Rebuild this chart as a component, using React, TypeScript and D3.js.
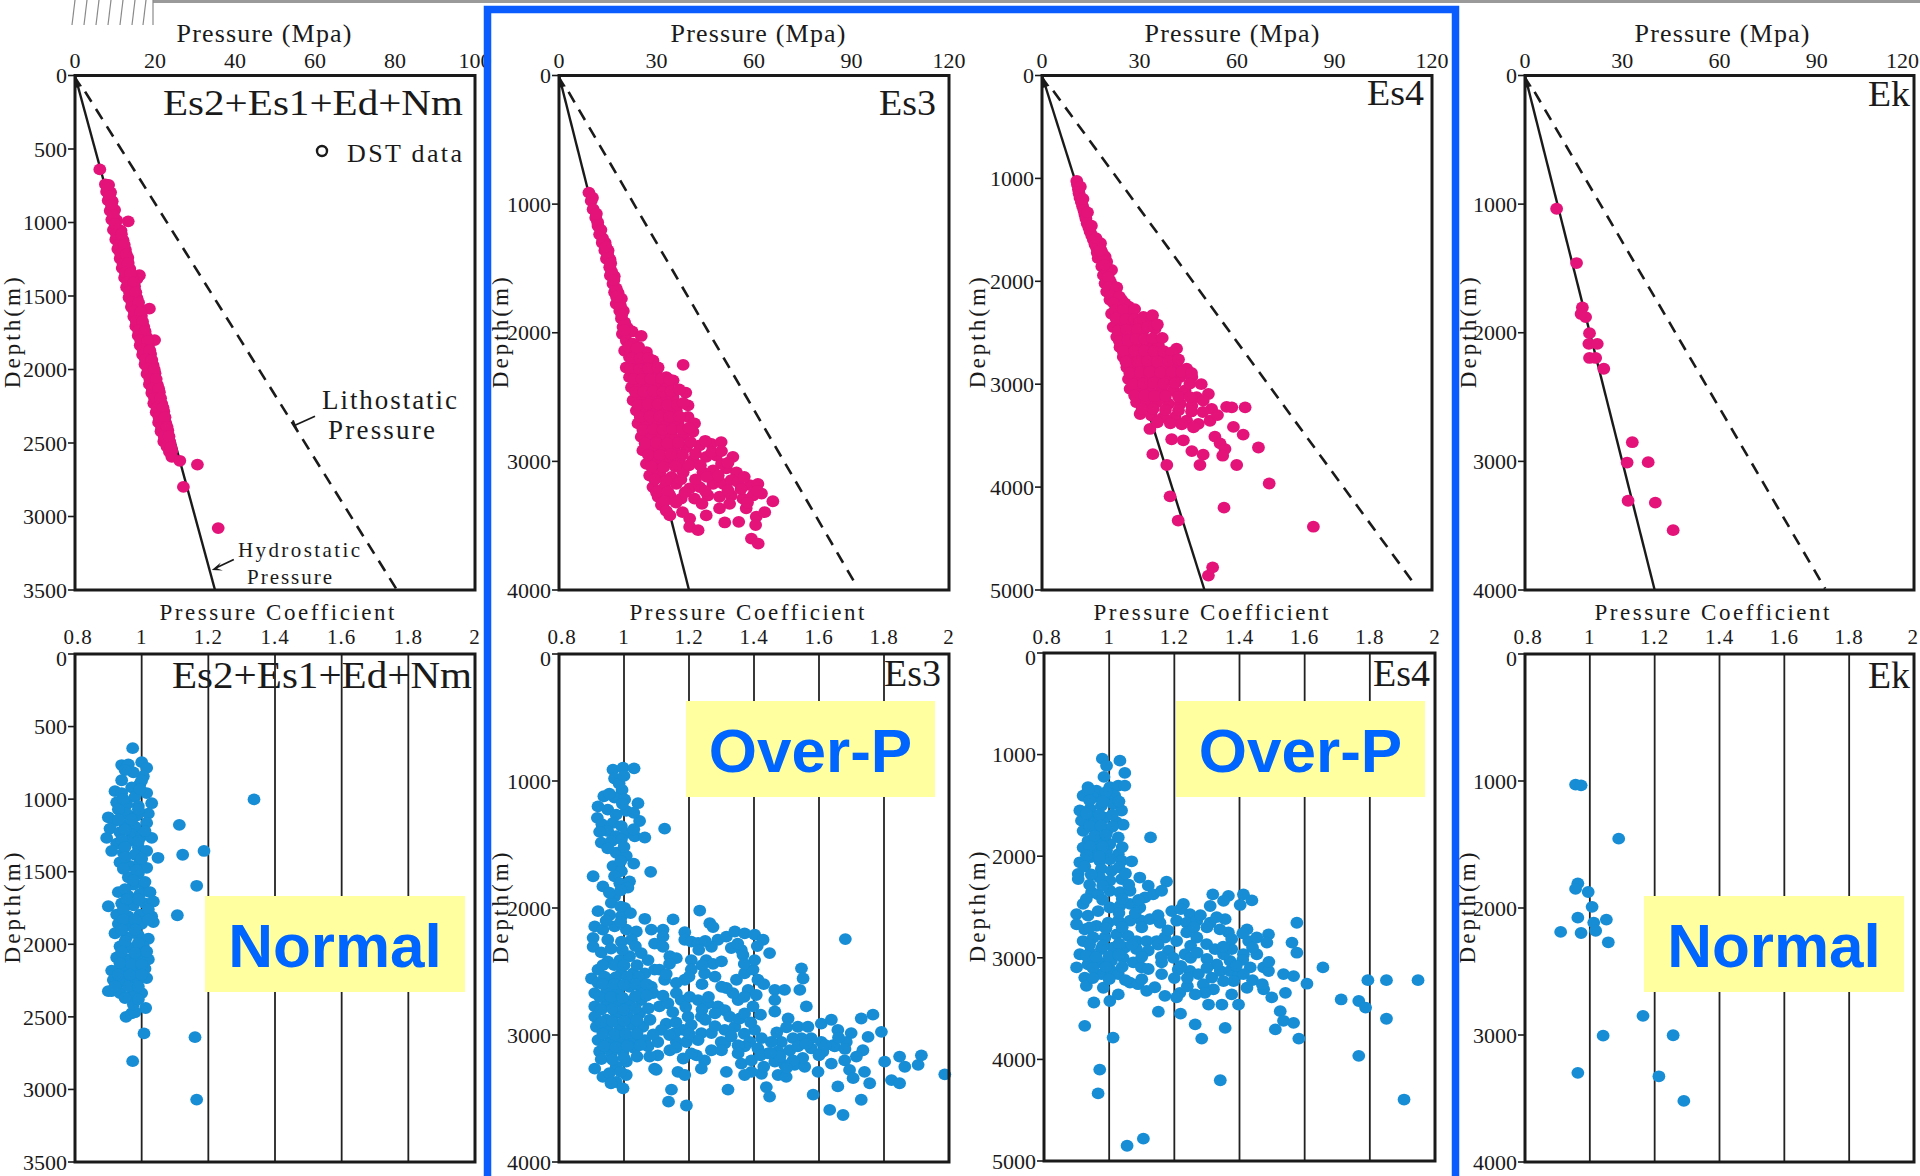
import React from "react";
import * as d3 from "d3";

type Pt = [number, number]; // [depth (m), value]

// ---------------- DATA ----------------
// Pressure (MPa) vs depth (m)
const es2Pressure: Pt[] = [
  [639,6.2],[740,7.6],[745,8.4],[790,7.9],[795,8.9],[850,8.3],[855,9.3],[920,8.8],[915,9.9],[980,9.2],[985,10.4],[992,13.3],
  [1050,9.6],[1045,10.7],[1055,11.5],[1115,10.2],[1110,11.2],[1120,12.0],[1180,10.7],[1175,11.8],[1185,12.6],[1245,11.3],
  [1250,12.3],[1240,13.2],[1310,11.8],[1305,12.8],[1315,13.7],[1359,16.1],[1383,15.5],[1375,12.4],[1370,13.4],[1380,14.3],
  [1440,12.9],[1445,14.0],[1435,14.9],[1510,13.5],[1505,14.6],[1515,15.5],[1586,18.6],[1575,14.1],[1570,15.1],[1580,16.0],
  [1640,14.7],[1645,15.7],[1635,16.6],[1705,15.2],[1700,16.2],[1710,17.2],[1770,15.8],[1765,16.8],[1775,17.8],[1800,19.9],
  [1835,16.3],[1830,17.3],[1840,18.3],[1900,16.9],[1905,17.9],[1895,18.9],[1965,17.5],[1960,18.5],[1970,19.5],[2030,18.0],
  [2035,19.1],[2025,20.0],[2100,18.6],[2095,19.6],[2105,20.6],[2160,19.2],[2165,20.2],[2155,21.1],[2230,19.7],[2225,20.7],
  [2235,21.7],[2290,20.3],[2295,21.3],[2285,22.2],[2360,20.9],[2355,21.8],[2365,22.7],[2420,21.5],[2425,22.4],[2415,23.2],
  [2490,22.2],[2485,23.0],[2495,23.7],[2560,23.6],[2555,24.2],[2594,24.2],[2621,26.2],[2647,30.6],[2799,27.1],[3079,35.8],
  [770,8.2],[820,8.6],[880,9.1],[950,9.6],[1010,10.0],[1080,10.4],[1080,11.6],[1150,11.0],[1150,12.3],[1210,11.4],[1215,12.8],
  [1280,12.0],[1275,13.3],[1340,12.6],[1345,13.9],[1405,13.2],[1410,14.6],[1470,13.6],[1475,15.2],[1540,14.2],[1545,15.9],
  [1605,14.8],[1610,16.4],[1670,15.3],[1675,16.9],[1735,15.9],[1740,17.5],[1800,16.4],[1805,18.1],[1865,17.0],[1870,18.7],
  [1930,17.6],[1935,19.2],[1995,18.2],[2000,19.8],[2065,18.7],[2065,20.3],[2130,19.3],[2130,20.9],[2195,19.9],[2195,21.4],
  [2260,20.5],[2260,22.0],[2325,21.0],[2325,22.5],[2390,21.6],[2390,23.0],[2455,22.3],[2455,23.5],[2525,23.0],[2530,24.0]
];
const es3Pressure: Pt[] = [
  [910,9.2],[975,9.9],[1040,10.5],[1105,11.3],[1170,12.0],[1235,12.5],[1300,13.3],[1300,14.2],[1360,14.1],[1360,15.1],
  [1425,14.6],[1430,15.7],[1490,15.6],[1555,15.8],[1560,17.0],[1620,16.6],[1685,17.1],[1690,18.2],[1725,18.2],[1735,19.2],
  [1775,17.6],[1830,18.7],[1830,19.8],[1890,19.2],[1955,19.7],[1960,21.0],[1990,22.5],[2010,19.5],[2025,25.3],[2060,20.7],
  [2085,22.8],[2110,24.5],[2140,20.2],[2190,21.7],[2150,23.8],[2150,26.9],[2270,20.7],[2240,23.3],[2230,25.8],[2215,28.9],
  [2250,38.2],[2345,21.7],[2320,24.3],[2320,26.9],[2305,29.9],[2345,33.0],[2425,22.3],[2425,24.8],[2395,27.4],[2395,30.5],
  [2425,33.5],[2370,35.1],[2525,22.8],[2500,25.8],[2500,28.9],[2515,32.0],[2500,35.1],[2465,39.0],[2565,39.7],[2605,23.8],
  [2605,26.9],[2590,29.9],[2605,33.0],[2605,36.1],[2705,24.3],[2695,27.4],[2705,30.5],[2705,33.5],[2695,36.6],[2655,39.7],
  [2705,41.7],[2770,41.2],[2810,25.3],[2800,28.4],[2810,31.5],[2800,34.6],[2800,38.2],[2915,25.8],[2900,28.9],[2890,32.0],
  [2915,35.6],[2890,39.2],[2875,43.3],[2865,46.9],[2850,49.9],[3020,26.9],[3005,29.9],[2990,33.5],[3005,37.1],[2990,41.2],
  [2965,45.3],[2955,48.4],[2965,53.5],[3110,27.9],[3095,31.0],[3120,34.6],[3085,38.2],[3085,44.3],[3070,47.4],[3055,51.5],
  [3085,54.6],[3200,28.9],[3200,32.5],[3175,36.1],[3210,40.2],[3200,43.3],[3175,47.4],[3175,50.5],[3145,53.0],[3160,55.1],
  [3185,58.7],[3175,61.2],[3275,30.5],[3265,34.1],[3290,37.6],[3290,41.7],[3265,45.8],[3275,49.4],[3265,53.0],[3290,56.6],
  [3265,59.7],[3250,62.3],[3310,65.8],[3340,31.5],[3420,34.1],[3445,40.2],[3420,45.3],[3475,51.0],[3470,55.3],[3430,60.7],
  [3495,60.5],[3510,40.2],[3535,42.8],[3600,59.2],[3640,61.3],[3365,49.4],[3365,57.6],[3395,63.3],
  [2110,21.5],[2120,24.0],[2200,22.5],[2200,25.0],[2195,27.5],[2280,22.0],[2285,24.8],[2280,27.5],[2270,30.5],[2360,23.0],
  [2360,25.5],[2360,28.2],[2355,31.5],[2365,34.0],[2460,23.5],[2460,26.0],[2455,29.0],[2460,32.0],[2455,34.5],[2440,37.0],
  [2560,24.3],[2555,27.4],[2555,30.5],[2560,33.5],[2560,36.5],[2545,38.2],[2655,25.0],[2650,28.0],[2650,31.0],[2655,34.0],
  [2650,37.0],[2755,25.8],[2750,29.0],[2755,32.0],[2750,35.0],[2750,38.0],[2740,40.0],[2860,26.5],[2855,30.0],[2860,33.3],
  [2855,36.8],[2850,40.5],[2840,45.0],[2950,27.5],[2950,31.0],[2945,34.5],[2950,38.0],[2940,42.0],[2930,47.0],[2920,50.0],
  [3040,28.5],[3045,32.2],[3040,35.8],[3030,40.0],[3030,43.5],[3020,50.0],[3010,52.0],[3140,29.5],[3150,33.0],[3140,37.5],
  [3140,42.0],[3120,45.5],[3110,49.0],[3120,57.0],[3240,30.0],[3235,33.5],[3240,38.8],[3230,45.0],[3225,52.0],[3215,56.0],
  [3230,61.0],[3310,32.5],[3320,36.0],[3330,44.0],[3330,52.5],[3320,58.0],[3385,33.0],[3395,38.0],
  [1140,11.9],[1265,13.4],[1395,15.0],[1525,16.2],[1655,17.6],[1790,18.9],[1920,20.2],
  [950,10.3],[1075,11.5],[1200,12.9],[1330,14.4],[1460,15.9],[1590,16.9],[1720,17.7],[1860,19.3],[1980,20.1]
];
const es4Pressure: Pt[] = [
  [1025,10.7],[1105,11.2],[1190,11.7],[1270,12.5],[1350,13.2],[1435,13.9],[1515,14.8],[1595,15.8],[1630,18.0],[1675,16.8],
  [1695,18.1],[1760,19.4],[1810,19.9],[1775,17.3],[1855,18.4],[1890,21.4],[1940,18.9],[2000,21.0],[2035,21.4],[2020,19.4],
  [2100,19.9],[2115,22.5],[2180,20.9],[2180,24.5],[2245,23.0],[2245,26.6],[2315,21.4],[2345,24.0],[2295,27.1],[2445,21.9],
  [2425,24.5],[2410,27.1],[2345,31.2],[2380,33.7],[2540,23.0],[2525,25.5],[2510,28.1],[2475,31.2],[2460,34.8],[2640,24.0],
  [2620,27.1],[2605,29.6],[2620,32.7],[2620,35.8],[2655,41.4],[2735,25.0],[2720,27.6],[2735,30.2],[2720,33.2],[2735,36.3],
  [2720,39.4],[2835,26.1],[2835,28.6],[2815,31.7],[2835,34.8],[2835,37.8],[2800,41.4],[2850,44.5],[2950,26.6],[2930,29.6],
  [2930,32.7],[2930,35.8],[2950,38.9],[2930,42.5],[2930,46.1],[3045,27.1],[3060,30.2],[3060,33.2],[3045,36.8],[3060,40.4],
  [3060,44.0],[3125,47.6],[3095,51.2],[3175,29.1],[3175,32.2],[3175,35.3],[3190,38.9],[3190,42.5],[3210,46.1],[3160,49.6],
  [3240,52.2],[3290,30.2],[3305,33.7],[3320,37.3],[3320,40.9],[3355,44.5],[3385,48.1],[3355,51.7],[3435,33.2],[3535,39.9],
  [3545,43.5],[3420,46.6],[3220,56.8],[3225,58.4],[3225,62.5],[3415,58.9],[3490,61.9],[3510,53.2],[3575,54.8],[3630,56.3],
  [3695,55.6],[3650,46.1],[3685,49.6],[3785,48.6],[3785,59.9],[3615,66.6],[3680,34.1],[3785,38.4],[4090,39.4],[4325,41.9],
  [4200,56.0],[3965,69.9],[4385,83.5],[4780,52.5],[4860,51.2],
  [1060,10.9],[1145,11.4],[1230,12.1],[1310,12.9],[1390,13.5],[1475,14.4],[1555,15.3],[1640,16.3],[1720,17.0],[1730,18.6],
  [1800,18.9],[1880,19.8],[1960,20.4],[2060,20.5],[2060,23.0],[2140,21.2],[2150,23.8],[2210,22.0],[2215,25.5],[2280,22.5],
  [2275,25.0],[2270,28.5],[2360,22.8],[2370,25.8],[2365,28.5],[2330,34.0],[2400,30.0],[2480,23.5],[2470,26.0],[2465,29.5],
  [2440,32.5],[2420,35.5],[2580,23.8],[2575,26.5],[2560,29.0],[2560,31.5],[2555,34.0],[2550,37.0],[2680,25.0],[2680,28.5],
  [2675,31.5],[2680,34.5],[2680,37.5],[2690,40.0],[2780,25.8],[2780,29.5],[2775,32.5],[2780,35.5],[2775,39.0],[2760,42.0],
  [2890,27.0],[2885,30.2],[2880,33.2],[2885,36.5],[2880,40.0],[2880,43.0],[2890,46.0],[3000,28.2],[2995,31.2],[2990,34.3],
  [2995,37.5],[2990,41.0],[2995,45.5],[3000,49.0],[3110,28.5],[3110,31.6],[3115,34.6],[3115,38.0],[3120,42.0],[3125,45.5],
  [3240,30.8],[3240,34.2],[3250,38.0],[3255,42.0],[3265,46.0],[3270,49.5],[3370,35.5],[3380,39.5],[3390,43.0],[3300,54.0],
  [1080,11.8],[1200,12.6],[1330,14.0],[1460,15.2],[1580,16.6],[1700,17.9],[1840,19.2]
];
const ekPressure: Pt[] = [
  [1036,9.75],[1458,15.9],[1803,17.7],[1878,18.7],[1854,17.3],[2003,19.9],[2086,19.7],[2086,22.3],[2196,19.9],[2196,21.8],
  [2280,24.3],[2851,33.1],[3009,31.5],[3006,38.0],[3306,31.8],[3321,40.2],[3535,45.7]
];

// Pressure coefficient vs depth (m)
const es2Coef: Pt[] = [
  [649,0.973],[1002,1.337],[1177,1.113],[1383,1.123],[1357,1.187],[1404,1.049],[1597,1.165],[1800,1.107],[1738,0.9],
  [2640,1.16],[2805,0.973],[3070,1.165],[2614,1.007],[2439,1.012],[2500,0.953],[2475,0.97],[2468,0.98],[2323,0.91],[2310,0.925],
  [765,0.94],[760,0.96],[745,1.0],[785,1.015],[816,0.975],[842,1.005],[894,0.995],[919,0.97],[945,0.92],[958,0.94],[958,1.015],
  [984,0.98],[1022,0.925],[1035,0.955],[1048,0.99],[1028,1.03],[1100,1.02],[1113,0.985],[1100,0.955],[1125,0.9],[1151,0.92],
  [1177,0.95],[1190,0.98],[1164,1.015],[1203,0.905],[1228,0.935],[1241,0.97],[1254,1.0],[1267,0.895],[1306,0.925],[1293,0.96],
  [1331,0.99],[1267,1.03],[1357,0.91],[1370,0.945],[1383,0.98],[1357,1.015],[1435,0.935],[1460,0.965],[1435,0.995],[1538,0.96],
  [1512,0.99],[1473,1.015],[1589,0.975],[1589,1.005],[1641,0.93],[1666,0.96],[1653,0.995],[1641,1.025],[1718,0.94],[1731,0.975],
  [1718,1.01],[1705,1.035],[1795,0.925],[1808,0.96],[1795,0.995],[1808,1.03],[1859,0.93],[1872,0.965],[1859,1.0],[1847,1.035],
  [1924,0.92],[1950,0.955],[1937,0.99],[1962,1.02],[2014,0.935],[2027,0.97],[2014,1.005],[2091,0.925],[2104,0.96],[2091,0.995],
  [2104,1.02],[2168,0.945],[2181,0.98],[2168,1.01],[2181,0.91],[2246,0.915],[2259,0.95],[2246,0.985],[2233,1.015],[2323,0.9],
  [2336,0.935],[2349,0.97],[2336,1.0],[2413,0.975],
  [800,0.95],[870,0.94],[870,1.0],[930,0.995],[1000,0.945],[1070,0.93],[1070,0.99],[1140,0.93],[1140,0.97],[1210,0.95],
  [1220,1.01],[1280,0.94],[1290,0.99],[1330,0.95],[1400,0.95],[1410,1.0],[1480,0.945],[1490,0.985],[1560,0.975],[1570,1.01],
  [1620,0.95],[1690,0.955],[1690,0.99],[1760,0.945],[1760,1.02],[1830,0.945],[1830,0.98],[1830,1.02],[1900,0.94],[1900,0.98],
  [1980,0.95],[1990,0.99],[2050,0.94],[2060,0.98],[2050,1.015],[2130,0.935],[2140,0.97],[2140,1.0],[2210,0.93],[2210,0.965],
  [2210,1.0],[2290,0.92],[2290,0.96],[2290,0.99],[2370,0.95],[2380,0.99]
];
const es3Coef: Pt[] = [
  [910,0.966],[895,0.997],[900,1.031],[980,0.971],[1070,0.994],[1120,0.938],[1130,0.971],[1145,1.002],[1175,1.043],[1290,0.918],
  [1225,0.95],[1265,0.976],[1235,1.007],[1315,1.048],[1340,0.932],[1330,0.966],[1355,0.992],[1395,0.95],[1435,0.976],[1410,1.007],
  [1435,1.033],[1445,1.064],[1485,0.93],[1475,0.961],[1460,0.992],[1375,1.125],[1565,0.976],[1590,1.007],[1670,0.966],[1710,0.992],
  [1750,0.971],[1750,0.905],[1830,0.935],[1805,0.987],[1790,1.017],[1840,1.012],[1715,1.082],[1910,0.971],[1960,0.961],[2000,1.002],
  [2025,0.92],[2055,0.956],[2065,0.992],[2085,1.064],[2145,0.91],[2170,0.935],[2145,0.971],[2170,1.007],[2185,1.038],[2235,0.905],
  [2250,0.95],[2265,0.992],[2250,1.023],[2305,0.905],[2170,1.084],[2170,1.12],[2090,1.151],[2225,1.12],[2280,1.094],[2190,1.187],
  [2020,1.233],[2120,1.264],[2150,1.274],[2555,0.9],[2485,0.92],[2420,0.95],[2410,0.987],[2380,1.017],[2355,1.053],[2410,1.074],
  [2590,0.92],[2565,0.956],[2515,0.992],[2515,1.028],[2515,1.064],[2485,1.094],[2670,0.91],[2660,0.946],[2645,0.982],[2620,1.017],
  [2630,1.053],[2620,1.084],[2775,0.91],[2750,0.946],[2735,0.982],[2735,1.017],[2725,1.053],[2855,0.91],[2880,0.946],[2830,0.976],
  [2855,1.012],[2830,1.048],[2935,0.915],[2960,0.95],[2950,0.987],[2920,1.023],[2935,1.058],[3040,0.92],[3055,0.956],[3040,0.992],
  [3025,1.028],[3040,1.064],[3130,0.925],[3145,0.961],[3130,0.997],[3105,1.033],[3090,1.074],[3265,0.91],[3330,0.935],[3250,0.976],
  [3210,1.007],[3370,0.976],[3420,0.997],[3315,1.007],[3265,1.094],[3160,1.104],[3120,1.141],[3170,1.079],
  [2305,1.12],[2380,1.141],[2395,1.161],[2250,1.187],[2265,1.207],[2275,1.228],[2410,1.207],[2410,1.253],[2440,1.274],[2515,1.248],
  [2485,1.207],[2565,1.187],[2590,1.161],[2565,1.125],[2485,1.109],[2670,1.089],[2775,1.109],[2750,1.135],[2670,1.161],[2725,1.176],
  [2700,1.202],[2725,1.228],[2750,1.258],[2775,1.289],[2805,1.31],[2855,1.325],[2855,1.238],[2855,1.197],[2920,1.207],[2985,1.238],
  [2960,1.182],[2985,1.156],[2910,1.13],[2960,1.115],[3055,1.104],[3055,1.161],[3055,1.192],[3040,1.228],[2985,1.269],[3055,1.299],
  [2960,1.31],[2935,1.341],[2870,1.356],[2830,1.371],[2775,1.397],[2725,1.351],[2670,1.335],[2630,1.315],[2565,1.346],[2515,1.371],
  [2485,1.397],[2565,1.412],[2645,1.382],[2685,1.407],[2250,1.289],[2225,1.315],[2185,1.341],[2200,1.371],[2210,1.402],[2250,1.428],
  [2355,1.448],[2305,1.269],[2315,1.33],[2330,1.361],[2410,1.402],[2370,1.366],
  [2645,1.464],[2645,1.494],[2725,1.464],[2475,1.546],[2555,1.551],[2645,1.541],[2775,1.561],[2815,1.464],[2870,1.505],[2935,1.535],
  [2935,1.566],[2910,1.607],[2880,1.638],[2960,1.658],[2985,1.699],[2870,1.73],[2840,1.766],[2975,1.792],[3015,1.751],[3120,1.735],
  [3055,1.684],[3080,1.643],[3055,1.607],[3025,1.576],[3025,1.546],[3025,1.52],[3055,1.484],[3055,1.453],[3025,1.423],[2960,1.402],
  [3055,1.387],[3090,1.371],[3080,1.351],[3105,1.412],[3145,1.443],[3130,1.474],[3120,1.51],[3090,1.535],[3105,1.576],[3130,1.612],
  [3090,1.648],[3210,1.464],[3235,1.494],[3235,1.525],[3250,1.556],[3290,1.597],[3225,1.638],[3200,1.679],[3170,1.715],[3275,1.694],
  [3290,1.74],[3380,1.756],[3340,1.705],[3405,1.658],[3590,1.633],[3630,1.674],[3510,1.73],[3470,1.582],[3485,1.448],[3410,1.438],
  [3315,1.474],[3330,1.499],[3305,1.423],[3290,1.392],[3315,1.371],[3225,1.361],[3200,1.392],[3145,1.351],[3290,1.315],[3430,1.32],
  [3065,1.31],[3120,1.269],[3200,1.248],[3160,1.223],[3145,1.207],[3185,1.182],[3290,1.166],[3315,1.187],[3265,1.238],[3430,1.146],
  [3525,1.137],[3555,1.192],[3275,1.099],[3210,1.802],[3170,1.848],[3250,1.864],[3235,1.905],[3160,1.915],[3355,1.823],[3380,1.848],
  [3310,1.987],[2245,1.681],
  [2450,0.935],[2450,0.97],[2450,1.0],[2450,1.04],[2540,0.94],[2545,0.975],[2540,1.01],[2545,1.045],[2600,0.935],[2600,0.97],
  [2605,1.0],[2600,1.035],[2600,1.07],[2700,0.925],[2700,0.96],[2705,0.995],[2695,1.035],[2690,1.07],[2800,0.93],[2795,0.965],
  [2800,1.0],[2790,1.035],[2790,1.075],[2900,0.93],[2895,0.965],[2890,1.0],[2885,1.04],[2880,1.08],[2990,0.935],[2995,0.97],
  [2990,1.005],[2990,1.04],[2995,1.09],[3090,0.94],[3095,0.975],[3085,1.01],[3080,1.05],[3190,0.93],[3195,0.965],[3180,1.0],
  [3170,1.04],[3300,0.955],[3290,0.99],[3380,0.96],[2350,0.93],[2320,0.96],[2330,0.995],[2300,1.035],[2100,0.945],[2110,0.99],
  [2040,1.02],[1990,0.99],[1880,0.955],[1860,0.99],[1630,0.99],[1650,1.03],[1530,0.95],[1520,1.0],[1400,0.925],[1380,1.03],
  [1200,0.92],[1250,1.03],[1180,0.995],[1100,0.955],[1020,0.985],[960,1.0],
  [2260,1.25],[2330,1.23],[2440,1.14],[2450,1.24],[2520,1.13],[2540,1.2],[2540,1.28],[2600,1.24],[2620,1.3],[2700,1.26],
  [2690,1.12],[2780,1.19],[2800,1.24],[2820,1.15],[2830,1.28],[2880,1.25],[2900,1.16],[2930,1.28],[2990,1.2],[3000,1.14],
  [3010,1.33],[2990,1.37],[2900,1.39],[2840,1.42],[2700,1.37],[2600,1.43],[2440,1.37],[2300,1.41],[2280,1.35],[2420,1.3],
  [3100,1.16],[3120,1.3],[3160,1.42],[3170,1.48],[3180,1.55],[3160,1.6],[3200,1.52],[3070,1.56],[3080,1.62],[3020,1.66],
  [3110,1.68],[3140,1.45],[2980,1.47],[2940,1.5],[3250,1.43],[3260,1.5]
];
const es4Coef: Pt[] = [
  [1040,0.979],[1060,1.033],[1110,0.992],[1180,1.048],[1220,0.984],[1320,0.935],[1355,0.961],[1320,1.002],[1305,1.028],[1305,1.048],
  [1405,0.92],[1420,0.951],[1405,0.987],[1405,1.017],[1550,0.91],[1535,0.941],[1505,0.976],[1485,1.012],[1550,1.038],[1650,0.915],
  [1635,0.951],[1620,0.987],[1665,1.023],[1690,1.043],[1750,0.92],[1735,0.956],[1765,0.992],[1815,1.028],[1850,0.935],[1850,0.971],
  [1880,1.002],[1915,0.92],[1945,0.961],[1945,0.992],[1980,1.028],[1815,1.127],[2060,0.91],[2010,0.941],[2045,0.971],[2030,1.002],
  [2045,1.038],[2050,1.069],[2175,0.905],[2225,0.905],[2125,0.976],[2145,1.007],[2210,0.971],[2240,1.002],[2225,1.038],
  [2355,0.946],[2470,0.92],[2375,0.966],[2340,1.002],[2355,1.033],[2340,1.064],[2210,1.094],[2290,1.12],[2250,1.176],[2405,1.11],
  [2375,1.135],[2340,1.161],[2570,0.9],[2670,0.9],[2585,0.935],[2540,0.966],[2505,1.002],[2490,1.033],[2470,1.064],[2505,1.094],
  [2720,0.925],[2685,0.961],[2655,0.997],[2635,1.028],[2635,1.064],[2635,1.099],[2620,1.125],[2655,1.156],[2835,0.92],[2800,0.951],
  [2800,0.987],[2770,1.023],[2785,1.058],[2835,1.084],[2835,1.115],[2965,0.91],[2950,0.941],[2915,0.976],[2900,1.012],[2900,1.048],
  [2915,1.084],[2930,1.12],[3095,0.9],[3065,0.935],[3045,0.971],[3030,1.007],[3000,1.043],[3045,1.074],[3095,1.099],[3195,0.925],
  [3275,0.93],[3160,0.976],[3295,0.982],[3130,1.007],[3160,1.028],[3245,1.064],[3260,1.089],[3325,1.115],[3360,1.028],[3425,1.002],
  [3440,0.953],[3670,0.925],[3785,1.012],[4100,0.971],[4335,0.966],[4850,1.055],[4780,1.105],
  [2835,1.146],[2800,1.171],[2540,1.192],[2470,1.228],[2570,1.248],[2635,1.207],[2655,1.238],[2635,1.269],[2655,1.31],[2750,1.238],
  [2800,1.269],[2865,1.299],[2915,1.325],[2835,1.207],[2930,1.182],[3045,1.161],[3160,1.161],[3000,1.197],[2965,1.233],[3115,1.212],
  [3130,1.248],[3160,1.274],[3260,1.289],[3195,1.315],[3130,1.341],[3130,1.371],[3160,1.397],[3030,1.371],[2965,1.351],[3065,1.33],
  [2915,1.376],[2965,1.412],[2750,1.366],[2815,1.376],[2620,1.356],[2375,1.318],[2390,1.366],[2375,1.412],[2435,1.438],[2480,1.402],
  [2440,1.351],[2490,1.31],[2720,1.423],[2835,1.428],[2800,1.453],[2770,1.489],[2850,1.484],[2965,1.453],[3095,1.474],[3130,1.489],
  [3095,1.433],[3160,1.412],[3230,1.382],[3230,1.351],[3310,1.32],[3345,1.294],[3360,1.264],[3345,1.217],[3390,1.207],[3375,1.171],
  [3530,1.151],[3550,1.219],[3460,1.305],[3460,1.346],[3460,1.397],[3360,1.376],[3295,1.423],[3310,1.474],[3390,1.499],[3655,1.264],
  [3795,1.284],[3690,1.356],[4205,1.341],[3160,1.535],[3180,1.566],[2655,1.576],[2850,1.561],[2950,1.576],[3345,1.541],[3525,1.525],
  [3705,1.51],[3620,1.535],[3640,1.566],[3795,1.582],[3255,1.607],[3095,1.656],[3410,1.712],[3425,1.766],[3490,1.787],[3220,1.794],
  [3220,1.851],[3600,1.851],[3965,1.766],[4395,1.905],[3220,1.948],
  [1350,0.935],[1370,0.99],[1450,0.94],[1460,0.98],[1460,1.03],[1580,0.93],[1590,0.97],[1590,1.01],[1700,0.94],[1700,0.975],
  [1710,1.01],[1800,0.955],[1790,0.99],[1900,0.94],[1905,0.98],[1910,1.04],[1990,0.93],[2000,0.97],[2100,0.925],[2110,1.03],
  [2180,0.945],[2170,1.05],[2280,0.94],[2290,0.98],[2280,1.06],
  [2420,0.93],[2430,0.98],[2420,1.04],[2430,1.09],[2560,1.03],[2560,1.08],[2580,1.15],[2700,0.94],[2710,0.99],[2700,1.04],
  [2700,1.1],[2730,1.18],[2870,0.94],[2880,0.98],[2860,1.03],[2870,1.07],[2870,1.15],[2980,0.93],[2990,0.96],[2985,1.0],
  [2970,1.03],[2990,1.1],[2990,1.16],[3100,0.95],[3090,0.99],[3090,1.04],[3110,1.12],[3200,0.95],[3210,1.0],[3220,1.05],
  [3210,1.1],[3290,1.14],[3200,1.2],[3280,1.24],
  [2520,1.22],[2580,1.28],[2600,1.33],[2700,1.3],[2720,1.34],[2760,1.41],[2880,1.25],[2890,1.35],[2900,1.44],[3000,1.25],
  [3010,1.3],[3020,1.41],[3080,1.22],[3100,1.3],[3080,1.39],[3200,1.24],[3220,1.44],[3260,1.47],[3040,1.49],[2700,1.26],[2950,1.27]
];
const ekCoef: Pt[] = [
  [1028,0.956],[1034,0.973],[1454,1.089],[1806,0.963],[1850,0.956],[1874,0.995],[1991,1.007],[2076,0.963],[2115,1.012],[2091,1.051],
  [2188,0.91],[2197,0.973],[2179,1.018],[2270,1.057],[2849,1.164],[3005,1.041],[3002,1.257],[3298,0.963],[3325,1.213],[3519,1.29]
];

const formations = ["Es2+Es1+Ed+Nm", "Es3", "Es4", "Ek"];
const regimeLabels = ["Normal", "Over-P", "Over-P", "Normal"];
const pressureMax = [100, 120, 120, 120];
const pressureTicks = [[0, 20, 40, 60, 80, 100], [0, 30, 60, 90, 120], [0, 30, 60, 90, 120], [0, 30, 60, 90, 120]];
const depthMax = [3500, 4000, 5000, 4000];
const depthTicks = [
  [0, 500, 1000, 1500, 2000, 2500, 3000, 3500],
  [0, 1000, 2000, 3000, 4000],
  [0, 1000, 2000, 3000, 4000, 5000],
  [0, 1000, 2000, 3000, 4000],
];
const coefDomain = [0.8, 2];
const coefTicks = [0.8, 1, 1.2, 1.4, 1.6, 1.8, 2];
const coefGrid = [1, 1.2, 1.4, 1.6, 1.8];
const hydrostaticEnd: Pt[] = [[3500, 35], [4000, 40], [5000, 50], [4000, 40]];
const lithostaticEnd: Pt[] = [[3500, 80.5], [3935, 90.8], [4956, 114.9], [3990, 92.6]];
const pressureData = [es2Pressure, es3Pressure, es4Pressure, ekPressure];
const coefData = [es2Coef, es3Coef, es4Coef, ekCoef];

// ---------------- LAYOUT / STYLE ----------------
const SERIF = "'Liberation Serif','Times New Roman',Times,serif";
const SANS = "'Liberation Sans',Arial,Helvetica,sans-serif";
const MAGENTA = "#E3137A";
const BLUE_DOT = "#168DD5";
const BORDER_BLUE = "#0B5CFF";
const TEXT_BLUE = "#0064FF";
const YELLOW = "#FFFFA0";
const INK = "#1a1a1a";
const DOT_RX = 6.4, DOT_RY = 5.9;

const topLayout = [
  { left: 75, right: 475, labelRight: 463, labelBase: 115, labelLen: 300, titleX: 264, depthX: 12 },
  { left: 559, right: 949, labelRight: 936, labelBase: 115, labelLen: 57, titleX: 758, depthX: 500 },
  { left: 1042, right: 1432, labelRight: 1424, labelBase: 105, labelLen: 57, titleX: 1232, depthX: 977 },
  { left: 1525, right: 1914, labelRight: 1910, labelBase: 106, labelLen: 42, titleX: 1722, depthX: 1468 },
];
const TOP_Y0 = 75.5, TOP_Y1 = 590;
const bottomLayout = [
  { left: 75, right: 475, top: 654, bottom: 1162, labelRight: 472, labelBase: 688, labelLen: 300, titleX: 277, depthX: 12, box: [205, 896, 260, 96] },
  { left: 559, right: 949, top: 654, bottom: 1162, labelRight: 941, labelBase: 686, labelLen: 57, titleX: 747, depthX: 500, box: [686, 701, 249, 96] },
  { left: 1044, right: 1435, top: 653, bottom: 1161, labelRight: 1430, labelBase: 686, labelLen: 57, titleX: 1211, depthX: 977, box: [1176, 701, 249, 96] },
  { left: 1525, right: 1914, top: 654, bottom: 1162, labelRight: 1910, labelBase: 688, labelLen: 42, titleX: 1712, depthX: 1467, box: [1644, 896, 260, 96] },
];

function DepthAxis({ y, ticks, left, cy, depthX, firstDy }: any) {
  return (
    <g>
      {ticks.map((t: number, k: number) => (
        <g key={t}>
          <line x1={left - 7} x2={left} y1={y(t)} y2={y(t)} stroke={INK} strokeWidth={1.6} />
          <text x={left - 8} y={y(t)} dy={k === 0 ? firstDy : "0.35em"} textAnchor="end" fontSize={22} fontFamily={SERIF} fill={INK}>{t}</text>
        </g>
      ))}
      <text transform={`translate(${depthX},${cy}) rotate(-90)`} textAnchor="middle" dominantBaseline="central"
        fontSize={23} fontFamily={SERIF} fill={INK} textLength={111}>Depth(m)</text>
    </g>
  );
}

function PressurePanel({ i }: { i: number }) {
  const L = topLayout[i];
  const x = d3.scaleLinear().domain([0, pressureMax[i]]).range([L.left, L.right]);
  const y = d3.scaleLinear().domain([0, depthMax[i]]).range([TOP_Y0, TOP_Y1]);
  const line = d3.line<Pt>().x((d) => x(d[1])).y((d) => y(d[0]));
  const hydro: Pt[] = [[0, 0], hydrostaticEnd[i]];
  const p0 = [x(0), y(0)];
  const le = [x(lithostaticEnd[i][1]), y(lithostaticEnd[i][0])];
  const ll = Math.hypot(le[0] - p0[0], le[1] - p0[1]);
  const lu = [(le[0] - p0[0]) / ll, (le[1] - p0[1]) / ll];
  const ls = [p0[0] + lu[0] * 19, p0[1] + lu[1] * 19];
  const he = [x(hydrostaticEnd[i][1]), y(hydrostaticEnd[i][0])];
  const hl = Math.hypot(he[0] - p0[0], he[1] - p0[1]);
  const hu = [(he[0] - p0[0]) / hl, (he[1] - p0[1]) / hl];
  const ah = [p0[0] + hu[0] * 12, p0[1] + hu[1] * 12];
  const arrow = `M${p0[0]},${p0[1]} L${ah[0] - hu[1] * 4},${ah[1] + hu[0] * 4} L${ah[0] + hu[1] * 4},${ah[1] - hu[0] * 4} Z`;
  const ticks = pressureTicks[i];
  return (
    <g>
      <text x={L.titleX} y={42} textAnchor="middle" fontSize={26} fontFamily={SERIF} fill={INK} textLength={175}>Pressure (Mpa)</text>
      {ticks.map((t) => {
        const tx = x(t);
        const clip = tx + 18 > 1920;
        return (
          <text key={t} x={clip ? 1919 : tx} y={67.5} textAnchor={clip ? "end" : "middle"} fontSize={22} fontFamily={SERIF} fill={INK}>{t}</text>
        );
      })}
      <DepthAxis y={y} ticks={depthTicks[i]} left={L.left} cy={(TOP_Y0 + TOP_Y1) / 2} depthX={L.depthX} firstDy="0.35em" />
      <text x={L.labelRight} y={L.labelBase} textAnchor="end" fontSize={36} fontFamily={SERIF} fill={INK}
        textLength={L.labelLen} lengthAdjust="spacingAndGlyphs">{formations[i]}</text>
      <path d={`M${ls[0]},${ls[1]} L${le[0]},${le[1]}`} stroke={INK} strokeWidth={2.6} strokeDasharray="12 8.5" fill="none" />
      <path d={line(hydro) || ""} stroke={INK} strokeWidth={2.4} fill="none" />
      <path d={arrow} fill={INK} />
      {pressureData[i].map((d, k) => (
        <ellipse key={k} cx={x(d[1])} cy={y(d[0])} rx={DOT_RX} ry={DOT_RY} fill={MAGENTA} />
      ))}
      <rect x={L.left} y={TOP_Y0} width={L.right - L.left} height={TOP_Y1 - TOP_Y0} fill="none" stroke={INK} strokeWidth={3} />
      {i === 0 && <Annotations x={x} y={y} />}
    </g>
  );
}

function Annotations({ x, y }: any) {
  const lt = [x(55.0), y(2379)];
  const ht = [x(34.2), y(3364)];
  return (
    <g fontFamily={SERIF} fill={INK}>
      <circle cx={322} cy={151} r={5} fill="none" stroke={INK} strokeWidth={2.4} />
      <text x={347} y={162} fontSize={26} textLength={115}>DST data</text>
      <text x={322} y={409} fontSize={27} textLength={135}>Lithostatic</text>
      <text x={328} y={439} fontSize={27} textLength={107}>Pressure</text>
      <line x1={lt[0] + 20} y1={lt[1] - 9} x2={lt[0]} y2={lt[1]} stroke={INK} strokeWidth={1.8} />
      <line x1={lt[0] - 2} y1={lt[1] - 5} x2={lt[0] + 2} y2={lt[1] + 5} stroke={INK} strokeWidth={1.8} />
      <text x={238} y={557} fontSize={21} textLength={122}>Hydrostatic</text>
      <text x={247} y={584} fontSize={21} textLength={85}>Pressure</text>
      <line x1={ht[0] + 22} y1={ht[1] - 10.5} x2={ht[0] + 4} y2={ht[1] - 2} stroke={INK} strokeWidth={1.8} />
      <path d={`M${ht[0]},${ht[1]} L${ht[0] + 9},${ht[1] - 7.5} L${ht[0] + 5.5},${ht[1] - 1.5} L${ht[0] + 11},${ht[1] + 0.5} Z`} fill={INK} />
    </g>
  );
}

function CoefPanel({ i }: { i: number }) {
  const L = bottomLayout[i];
  const x = d3.scaleLinear().domain(coefDomain).range([L.left, L.right]);
  const y = d3.scaleLinear().domain([0, depthMax[i]]).range([L.top, L.bottom]);
  const [bx, by, bw, bh] = L.box;
  return (
    <g>
      <text x={L.titleX} y={620} textAnchor="middle" fontSize={23} fontFamily={SERIF} fill={INK} textLength={235}>Pressure Coefficient</text>
      {coefTicks.map((t, k) => {
        const tx = x(t);
        const clip = tx + 8 > 1920;
        return (
          <text key={t} x={clip ? 1919 : k === 0 ? tx + 3 : tx} y={643.5} textAnchor={clip ? "end" : "middle"} fontSize={21} fontFamily={SERIF} fill={INK} letterSpacing={1}>{String(t)}</text>
        );
      })}
      <DepthAxis y={y} ticks={depthTicks[i]} left={L.left} cy={(L.top + L.bottom) / 2} depthX={L.depthX} firstDy="0.55em" />
      <text x={L.labelRight} y={L.labelBase} textAnchor="end" fontSize={37} fontFamily={SERIF} fill={INK}
        textLength={L.labelLen} lengthAdjust="spacingAndGlyphs">{formations[i]}</text>
      {coefGrid.map((g) => (
        <line key={g} x1={x(g)} x2={x(g)} y1={L.top} y2={L.bottom} stroke="#222" strokeWidth={1.8} />
      ))}
      {coefData[i].map((d, k) => (
        <ellipse key={k} cx={x(d[1])} cy={y(d[0])} rx={DOT_RX} ry={DOT_RY} fill={BLUE_DOT} />
      ))}
      <rect x={bx} y={by} width={bw} height={bh} fill={YELLOW} />
      <text x={bx + bw / 2} y={by + 71} textAnchor="middle" fontSize={62} fontWeight="bold" fontFamily={SANS} fill={TEXT_BLUE}>{regimeLabels[i]}</text>
      <rect x={L.left} y={L.top} width={L.right - L.left} height={L.bottom - L.top} fill="none" stroke={INK} strokeWidth={3} />
    </g>
  );
}

export default function App() {
  const slashes = [72, 84, 96, 108, 120, 132, 143];
  return (
    <svg width={1920} height={1176} viewBox="0 0 1920 1176" style={{ position: "absolute", left: 0, top: 0, display: "block" }}>
      <rect x={0} y={0} width={1920} height={1176} fill="#fff" />
      {[0, 1, 2, 3].map((i) => <PressurePanel key={"t" + i} i={i} />)}
      {[0, 1, 2, 3].map((i) => <CoefPanel key={"b" + i} i={i} />)}
      {/* decorative header strip */}
      <line x1={153} x2={1920} y1={1.5} y2={1.5} stroke="#9a9a9a" strokeWidth={3} />
      {slashes.map((s) => (
        <line key={s} x1={s + 3} y1={0} x2={s} y2={25} stroke="#8a8a8a" strokeWidth={1.2} />
      ))}
      <line x1={153} x2={153} y1={0} y2={25} stroke="#8a8a8a" strokeWidth={1.2} />
      {/* highlight frame */}
      <rect x={487.5} y={9.5} width={968} height={1200} fill="none" stroke={BORDER_BLUE} strokeWidth={7.5} />
    </svg>
  );
}
